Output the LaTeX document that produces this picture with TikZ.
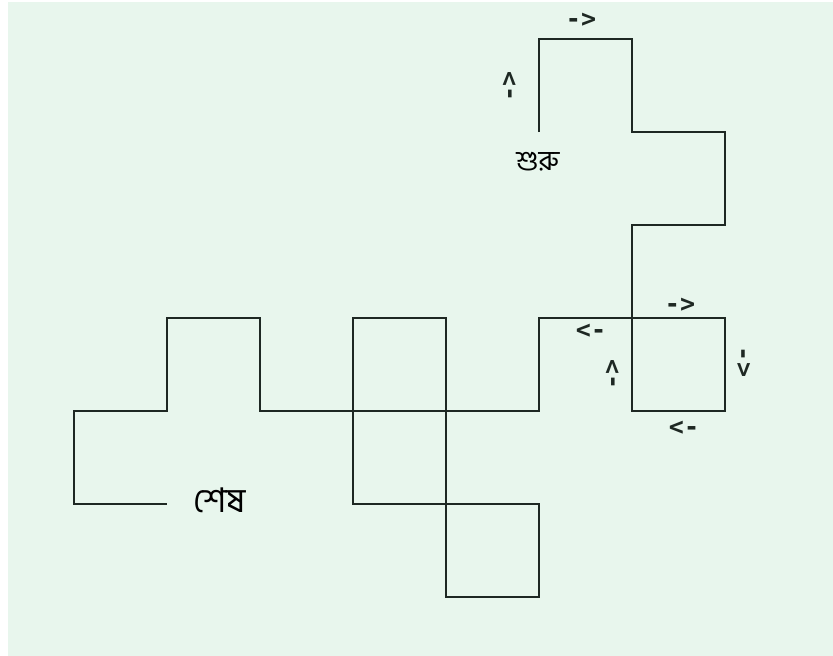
\documentclass[tikz,border=0pt]{standalone}
\usepackage{fontspec}
\setsansfont{DejaVu Sans}
\setmonofont{DejaVu Sans Mono}
\newfontfamily\bnfont[Script=Bengali]{Hind Siliguri}
\definecolor{bg}{RGB}{232,246,237}
\definecolor{ln}{RGB}{30,40,35}
\tikzset{
  turtle/.style={draw=ln, line width=1.8pt, line join=miter},
  arr/.style={font=\ttfamily\bfseries\fontsize{25}{25}\selectfont, text=ln, inner sep=0pt},
  bn/.style={font=\bnfont\fontsize{#1}{#1}\selectfont, text=black, inner sep=0pt}
}
\begin{document}
\begin{tikzpicture}[x=1pt,y=-1pt]
\useasboundingbox (0,0) rectangle (833,656);
\fill[white] (0,0) rectangle (833,656);
\fill[bg] (8,2) rectangle (833,656);
% grid coordinates
\foreach \i in {0,...,7}{
  \foreach \j in {0,...,6}{
    \coordinate (g\i\j) at ({74+93*\i},{39+93*\j});
  }
}
\draw[turtle] (g51) -- (g50) -- (g60) -- (g61) -- (g71) -- (g72) -- (g62)
  -- (g63) -- (g73) -- (g74) -- (g64) -- (g63) -- (g53) -- (g54) -- (g44)
  -- (g43) -- (g33) -- (g35) -- (g45) -- (g46) -- (g56) -- (g55) -- (g45)
  -- (g44) -- (g24) -- (g23) -- (g13) -- (g14) -- (g04) -- (g05) -- (g15);
% labels
\node[arr] (a1) at (581,20) {->};
\node[arr, rotate=90] (a2) at (510,86) {->};
\node[bn=28] (start) at (538,162) {শুরু};
\node[arr] (a3) at (680,305) {->};
\node[arr] (a4) at (591,331) {<-};
\node[arr, rotate=90] (a5) at (613,374) {->};
\node[arr, rotate=-90] (a6) at (743,362) {->};
\node[arr] (a7) at (684,428) {<-};
\node[bn=34] (end) at (220,500) {শেষ};
\end{tikzpicture}
\end{document}
